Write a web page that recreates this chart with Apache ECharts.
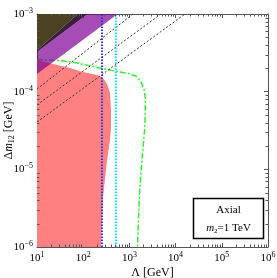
<!DOCTYPE html>
<html><head><meta charset="utf-8">
<script src="https://cdn.jsdelivr.net/npm/echarts@6/dist/echarts.min.js"></script>
<style>html,body{margin:0;padding:0;background:#fff}#c{width:277px;height:278px}</style>
</head><body><div id="c"></div>
<script>
// ---- data ----
const xExponents = ['1','2','3','4','5','6'];
const yExponents = ['−3','−4','−5','−6'];
const lambdaRange = [10, 1e6];
const dmRange = [1e-6, 1e-3];
const lambdaBlue = 255;
const lambdaCyan = 510;
// green dash-dot contour
const greenLambda = [10, 25.8, 69.8, 264, 513, 979, 1390, 1782, 2104, 2208, 2208, 2143, 1845, 1637, 1496];
const greenDm = [2.58e-4, 2.54e-4, 2.36e-4, 1.98e-4, 1.83e-4, 1.71e-4, 1.59e-4, 1.33e-4, 1.04e-4, 8.13e-5, 5.48e-5, 3.34e-5, 1.21e-5, 4.42e-6, 1e-6];
// salmon excluded region
const salmonLambda = [10, 22.2, 51.8, 99.1, 199, 255, 323, 380, 400, 400, 380, 323, 269, 243, 10];
const salmonDm = [2.56e-4, 2.27e-4, 2.02e-4, 1.79e-4, 1.64e-4, 1.55e-4, 1.28e-4, 9.62e-5, 5.81e-5, 3.52e-5, 2.39e-5, 1.21e-5, 4.42e-6, 1e-6, 1e-6];
// purple band
const purpleLambda = [10, 125, 558, 10];
const purpleDm = [3.24e-4, 1e-3, 1e-3, 1.69e-4];
// olive corner
const oliveLambda = [10, 10, 76.0];
const oliveDm = [1e-3, 3.41e-4, 1e-3];
// dark strip
const stripLambda = [10, 76.0, 125, 10];
const stripDm = [3.41e-4, 1e-3, 1e-3, 3.24e-4];
// black dashed diagonal lines
const dash1Lambda = [10, 1197], dash1Dm = [1.08e-4, 1e-3];
const dash2Lambda = [10, 4831], dash2Dm = [6.75e-5, 1e-3];
const dash3Lambda = [10, 15960], dash3Dm = [4.07e-5, 1e-3];

// ---- chart ----
const serif = 'Liberation Serif';
const frame = '#555';
const pairs = (xs, ys) => xs.map((x, i) => [x, ys[i]]);

function polySeries(xs, ys, fill, z) {
  return {
    type: 'custom', coordinateSystem: 'cartesian2d', xAxisIndex: 0, yAxisIndex: 0, z: z, silent: true,
    data: [[xs[0], ys[0]]],
    renderItem: (params, api) => ({
      type: 'polygon',
      shape: { points: xs.map((x, i) => api.coord([x, ys[i]])) },
      style: { fill: fill }
    })
  };
}
function lineSeries(xs, ys, color, width, dash, z) {
  return {
    type: 'line', xAxisIndex: 0, yAxisIndex: 0, z: z, silent: true, symbol: 'none',
    data: pairs(xs, ys),
    lineStyle: { color: color, width: width, type: dash }
  };
}
// minor ticks (2..9 per decade) drawn through the axes' scales
const minorX = [], minorY = [];
for (let d = 10; d < 1e6; d *= 10) for (let k = 2; k <= 9; k++) minorX.push(d * k);
for (let d = 1e-6; d < 1e-3 * 0.99; d *= 10) for (let k = 2; k <= 9; k++) minorY.push(d * k);
const minorSeries = {
  type: 'custom', coordinateSystem: 'cartesian2d', xAxisIndex: 0, yAxisIndex: 0, z: 20, silent: true,
  data: [[10, 1e-6]],
  clip: false,
  renderItem: (params, api) => {
    const ch = [];
    const st = { stroke: frame, lineWidth: 1 };
    minorX.forEach(v => {
      const b = api.coord([v, dmRange[0]]), t = api.coord([v, dmRange[1]]);
      const x = Math.round(b[0]) + 0.5;
      ch.push({ type: 'line', shape: { x1: x, y1: b[1], x2: x, y2: b[1] - 2.5 }, style: st });
      ch.push({ type: 'line', shape: { x1: x, y1: t[1], x2: x, y2: t[1] + 2.5 }, style: st });
    });
    minorY.forEach(v => {
      const l = api.coord([lambdaRange[0], v]), r = api.coord([lambdaRange[1], v]);
      const y = Math.round(l[1]) + 0.5;
      ch.push({ type: 'line', shape: { x1: l[0], y1: y, x2: l[0] + 2.5, y2: y }, style: st });
      ch.push({ type: 'line', shape: { x1: r[0], y1: y, x2: r[0] - 2.5, y2: y }, style: st });
    });
    return { type: 'group', children: ch };
  }
};

const labelRich = {
  b: { fontFamily: serif, fontSize: 11, color: '#000', lineHeight: 14 },
  s: { fontFamily: serif, fontSize: 8, color: '#000', lineHeight: 8, verticalAlign: 'top' }
};
const axisCommon = {
  type: 'log', logBase: 10,
  axisLine: { show: true, onZero: false, lineStyle: { color: frame, width: 1 } },
  axisTick: { show: true, inside: true, length: 4, lineStyle: { color: frame } },
  splitLine: { show: false }, minorTick: { show: false }
};

const chart = echarts.init(document.getElementById('c'), null, { renderer: 'canvas' });
chart.setOption({
  animation: false,
  backgroundColor: '#fff',
  grid: { left: 37, top: 14, right: 9, bottom: 31, containLabel: false, outerBoundsMode: 'none' },
  xAxis: [
    Object.assign({}, axisCommon, {
      min: lambdaRange[0], max: lambdaRange[1], position: 'bottom',
      axisLabel: {
        margin: 4,
        formatter: v => '{b|10}{s|' + xExponents[Math.round(Math.log10(v)) - 1] + '}',
        rich: labelRich
      },
      name: 'Λ [GeV]', nameLocation: 'middle', nameGap: 26, nameMoveOverlap: false,
      nameTextStyle: { fontFamily: serif, fontSize: 12, color: '#000', verticalAlign: 'middle', lineHeight: 14 }
    }),
    Object.assign({}, axisCommon, {
      min: lambdaRange[0], max: lambdaRange[1], position: 'top', axisLabel: { show: false }
    })
  ],
  yAxis: [
    Object.assign({}, axisCommon, {
      min: dmRange[0], max: dmRange[1], position: 'left',
      axisLabel: {
        margin: 4,
        formatter: v => '{b|10}{s|' + yExponents[-3 - Math.round(Math.log10(v))] + '}',
        rich: labelRich
      },
      name: '{n|Δ}{i|m}{u|12}{n| [GeV]}', nameLocation: 'middle', nameGap: 28, nameRotate: 90, nameMoveOverlap: false,
      nameTextStyle: {
        verticalAlign: 'middle',
        rich: {
          n: { fontFamily: serif, fontSize: 12, color: '#000', lineHeight: 14 },
          i: { fontFamily: serif, fontSize: 12, fontStyle: 'italic', color: '#000', lineHeight: 14 },
          u: { fontFamily: serif, fontSize: 8, color: '#000', lineHeight: 8, verticalAlign: 'bottom' }
        }
      }
    }),
    Object.assign({}, axisCommon, {
      min: dmRange[0], max: dmRange[1], position: 'right', axisLabel: { show: false }
    })
  ],
  series: [
    polySeries(salmonLambda, salmonDm, '#ff8080', 1),
    lineSeries(greenLambda, greenDm, '#33ee33', 1.5, [6, 2, 2, 2], 2),
    lineSeries(dash1Lambda, dash1Dm, '#333', 1, [2, 2], 3),
    lineSeries(dash2Lambda, dash2Dm, '#333', 1, [2, 2], 3),
    lineSeries(dash3Lambda, dash3Dm, '#333', 1, [2, 2], 3),
    polySeries(purpleLambda, purpleDm, 'rgba(128,0,149,0.7)', 4),
    polySeries(oliveLambda, oliveDm, '#4a4220', 5),
    polySeries(stripLambda, stripDm, '#3c1f40', 5),
    lineSeries([lambdaBlue, lambdaBlue], dmRange, '#3030f0', 2, [1.5, 1.5], 6),
    lineSeries([lambdaCyan, lambdaCyan], dmRange, '#00e0ee', 2, [1.5, 1.5], 6),
    minorSeries
  ],
  graphic: [
    { type: 'rect', shape: { x: 193.5, y: 198.5, width: 70, height: 40 },
      style: { fill: '#fff', stroke: '#000', lineWidth: 1.5 }, z: 100 },
    { type: 'text', x: 228.5, y: 210, z: 101,
      style: { text: 'Axial', fontFamily: serif, fontSize: 11, fill: '#000', align: 'center', verticalAlign: 'middle' } },
    { type: 'text', x: 228.5, y: 228, z: 101,
      style: { text: '{i|m}{u|2}{n|=1 TeV}', align: 'center', verticalAlign: 'middle',
        rich: {
          n: { fontFamily: serif, fontSize: 11, fill: '#000', color: '#000', lineHeight: 13 },
          i: { fontFamily: serif, fontSize: 11, fontStyle: 'italic', color: '#000', lineHeight: 13 },
          u: { fontFamily: serif, fontSize: 7, color: '#000', lineHeight: 7, verticalAlign: 'bottom' }
        } } }
  ]
});
</script></body></html>
